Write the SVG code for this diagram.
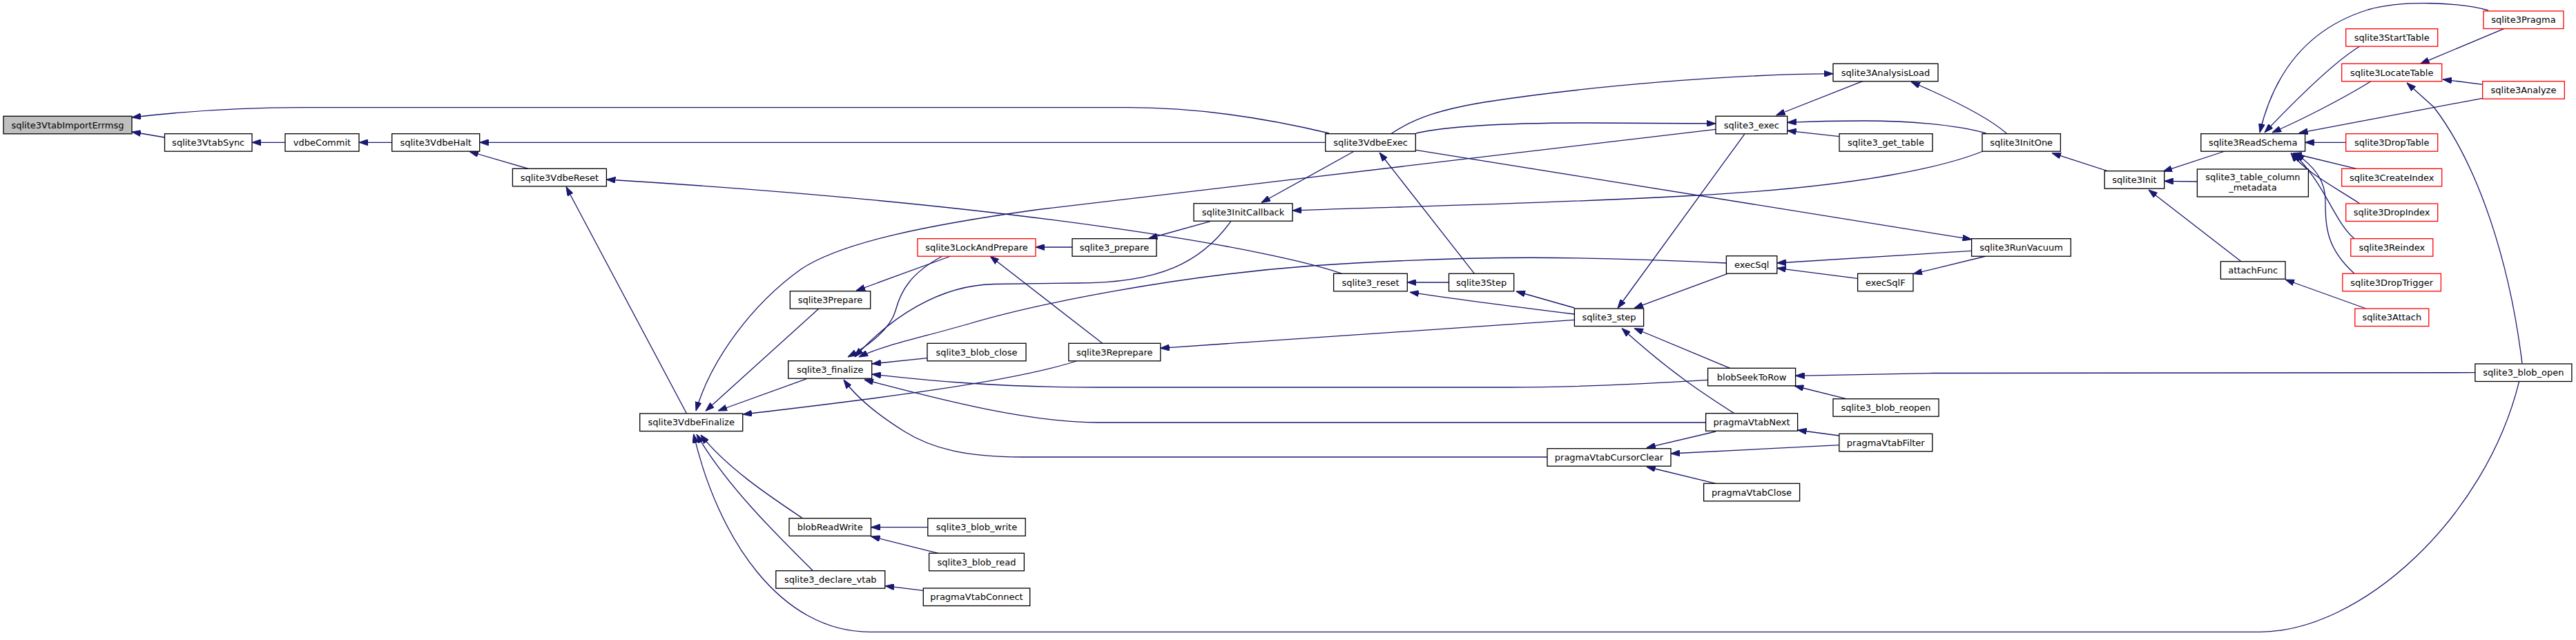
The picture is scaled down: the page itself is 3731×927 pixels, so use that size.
<svg xmlns="http://www.w3.org/2000/svg" width="3731" height="927" viewBox="0 0 3731 927">
<style>
.n rect{fill:#fff;stroke:#000;stroke-width:1.3}
.n.r rect{stroke:#ff0000}
.n.g rect{fill:#bfbfbf}
.n text{font-family:"DejaVu Sans",sans-serif;font-size:13px;fill:#000;text-anchor:middle}
#edges path{fill:none;stroke:#191970;stroke-width:1.3;marker-end:url(#ah)}
</style>
<defs>
<marker id="ah" markerUnits="userSpaceOnUse" viewBox="0 0 13 9" refX="13" refY="4.5" markerWidth="13" markerHeight="9" orient="auto">
<path d="M0,0 L13,4.5 L0,9 z" fill="#191970" stroke="#191970" stroke-width="1"/>
</marker>
</defs>
<rect width="3731" height="927" fill="#fff"/>
<g id="edges">
<path d="M1925,193 C1800,163 1700,155.7 1633,155.7 L441,155.7 C350,155.7 260,162 191,170"/>
<path d="M238.5,199 L191,191"/>
<path d="M413,206.3 L365,206.3"/>
<path d="M567.7,206.3 L520,206.3"/>
<path d="M1919.7,206.3 L694.7,206.3"/>
<path d="M765,244.3 L680,219.5"/>
<path d="M1943.5,396.3 C1850,363 1500,298 878.4,260"/>
<path d="M994.4,598.7 L820,270.7"/>
<path d="M2485,187.3 L1500,304 C1350,325 1220,350 1160,390 C1090,440 1030,520 1008,595"/>
<path d="M1186,447 L1022,595.3"/>
<path d="M1168.5,548.7 L1040,595"/>
<path d="M1559,523 C1450,558 1200,585 1076,600.3"/>
<path d="M3648.7,552.3 C3600,750 3420,915 3273,915.3 L1260,915.3 C1130,915.3 1040,780 1004.5,628.7"/>
<path d="M1177.5,826.7 C1120,770 1050,700 1009,629"/>
<path d="M1162.5,750.7 C1120,722 1055,680 1015,630"/>
<path d="M1365,371 C1320,395 1305,420 1297,450 C1290,475 1260,500 1228,517"/>
<path d="M1782.7,320.7 C1740,380 1680,410 1560,410 L1440,411.5 C1360,413 1290,460 1238,517"/>
<path d="M1377,371 L1240,421"/>
<path d="M2500.4,381 C2300,372 2150,368 1900,385 C1700,400 1500,440 1400,470 C1330,490 1280,500 1244,517"/>
<path d="M1343,518.7 L1263,527"/>
<path d="M2473.6,550.3 C2350,558 2250,561 2188,561 L1590,561 C1450,561 1350,552 1263,542"/>
<path d="M2470.6,612 L1590,612 C1480,612 1330,570 1252,550"/>
<path d="M2241,662 L1480,662 C1400,662 1350,650 1310,625 C1270,600 1240,575 1222,550"/>
<path d="M1553,358 L1500,358"/>
<path d="M1753,320.7 L1663.5,345.5"/>
<path d="M1596.7,497.3 L1434,371"/>
<path d="M2280.4,463.3 L1680.7,504.3"/>
<path d="M1343.8,763.7 L1261.5,763.7"/>
<path d="M1359,801.3 L1261.5,777"/>
<path d="M1337.3,855.3 L1282,848.7"/>
<path d="M1961,219.3 L1827,293.5"/>
<path d="M2872,219 C2820,240 2700,270 2456,283 C2250,295 2000,300 1872,305"/>
<path d="M2135.5,396.3 L1998,221"/>
<path d="M2015,193.5 C2050,170 2090,158 2150,148 C2300,125 2500,108 2655,106.7"/>
<path d="M2050.8,193 C2100,182 2200,178 2300,178 L2485,179"/>
<path d="M2697.8,117.7 L2572.6,167"/>
<path d="M2876.5,193 C2830,180 2760,175 2700,175 C2650,175 2620,176 2588.7,177.3"/>
<path d="M2663.8,197.7 L2588.7,189.3"/>
<path d="M2526.7,194.3 L2343,446.5"/>
<path d="M2906.3,193.3 C2880,170 2830,145 2768,118.5"/>
<path d="M2050.8,217.3 L2855.6,346.7"/>
<path d="M2855.6,363.3 L2573.8,381"/>
<path d="M2876.5,371 L2771,396.7"/>
<path d="M2690.6,403.3 L2573.8,388.3"/>
<path d="M2501.6,396.7 L2367,446.3"/>
<path d="M2098.5,409 L2038.3,409"/>
<path d="M2280.4,455 C2200,445 2120,435 2042,423.3"/>
<path d="M2280.4,446 L2196,422"/>
<path d="M2511.7,598.7 C2470,572 2420,540 2349,475.5"/>
<path d="M2505.8,533.3 L2367,475.5"/>
<path d="M3584.9,539.7 L2800,540.5 L2600.6,544.3"/>
<path d="M2674,577.7 L2599.4,559"/>
<path d="M2663.8,631 L2603.6,623"/>
<path d="M2485,625 L2384.7,648.7"/>
<path d="M2663.8,644.7 L2420,657"/>
<path d="M2485,700.3 L2384.7,676"/>
<path d="M3052.4,247.7 L2972,221.7"/>
<path d="M3222.4,219 L3133,248.3"/>
<path d="M3182.4,263 L3134.7,262.3"/>
<path d="M3246,378.7 L3112,275"/>
<path d="M3427,447 L3310,405"/>
<path d="M3604,15 C3560,3 3480,0 3430,14 C3330,45 3290,120 3273,192"/>
<path d="M3418,67 C3380,90 3320,150 3280,192"/>
<path d="M3434,117.7 C3390,145 3330,175 3291,192"/>
<path d="M3595.7,142.3 L3329.7,192.7"/>
<path d="M3397.7,206.3 L3338.6,206.3"/>
<path d="M3413,244.3 L3320.7,222"/>
<path d="M3418,295 C3380,270 3340,250 3318,221.5"/>
<path d="M3410,345.7 C3380,320 3370,270 3322,222"/>
<path d="M3410,396.3 C3370,360 3368,330 3368,290 C3368,260 3350,240 3325,222"/>
<path d="M3626.6,41.7 L3505.6,92.3"/>
<path d="M3595.7,122.3 L3538,115"/>
<path d="M3653,526.3 C3635,380 3590,240 3525,155 L3486,120"/>
</g>
<g id="n_import" class="n g"><rect x="5" y="168.3" width="186" height="25.5"/><text x="98" y="185.5">sqlite3VtabImportErrmsg</text></g>
<g id="n_vtabsync" class="n"><rect x="238.5" y="193.7" width="126.5" height="25.5"/><text x="301.7" y="211">sqlite3VtabSync</text></g>
<g id="n_vdbecommit" class="n"><rect x="413" y="193.7" width="107" height="25.5"/><text x="466.5" y="211">vdbeCommit</text></g>
<g id="n_vdbehalt" class="n"><rect x="567.7" y="193.7" width="127" height="25.5"/><text x="631.2" y="211">sqlite3VdbeHalt</text></g>
<g id="n_vdbereset" class="n"><rect x="742.4" y="244.3" width="136" height="25.5"/><text x="810.4" y="261.6">sqlite3VdbeReset</text></g>
<g id="n_vdbefinalize" class="n"><rect x="926.7" y="599" width="149" height="25.5"/><text x="1001.2" y="616.3">sqlite3VdbeFinalize</text></g>
<g id="n_finalize" class="n"><rect x="1141.7" y="522.7" width="121" height="25.5"/><text x="1202.2" y="540">sqlite3_finalize</text></g>
<g id="n_prepare3" class="n"><rect x="1144.3" y="421.7" width="116.4" height="25.5"/><text x="1202.5" y="439">sqlite3Prepare</text></g>
<g id="n_lockandprepare" class="n r"><rect x="1329" y="345.7" width="171" height="25.5"/><text x="1414.5" y="363">sqlite3LockAndPrepare</text></g>
<g id="n_prepare" class="n"><rect x="1553" y="345.7" width="122" height="25.5"/><text x="1614" y="363">sqlite3_prepare</text></g>
<g id="n_initcallback" class="n"><rect x="1729" y="294.7" width="143" height="25.5"/><text x="1800.5" y="312">sqlite3InitCallback</text></g>
<g id="n_blobclose" class="n"><rect x="1343" y="497.3" width="143" height="25.5"/><text x="1414.5" y="514.6">sqlite3_blob_close</text></g>
<g id="n_reprepare" class="n"><rect x="1547.8" y="497.3" width="133" height="25.5"/><text x="1614.3" y="514.6">sqlite3Reprepare</text></g>
<g id="n_blobreadwrite" class="n"><rect x="1143" y="750.7" width="118.5" height="25.5"/><text x="1202.2" y="768">blobReadWrite</text></g>
<g id="n_blobwrite" class="n"><rect x="1343.8" y="750.7" width="141.4" height="25.5"/><text x="1414.5" y="768">sqlite3_blob_write</text></g>
<g id="n_blobread" class="n"><rect x="1345.6" y="801.3" width="137.8" height="25.5"/><text x="1414.5" y="818.6">sqlite3_blob_read</text></g>
<g id="n_declarevtab" class="n"><rect x="1123.8" y="826.7" width="158" height="25.5"/><text x="1202.8" y="844">sqlite3_declare_vtab</text></g>
<g id="n_vtabconnect" class="n"><rect x="1337.3" y="852" width="154.4" height="25.5"/><text x="1414.5" y="869.3">pragmaVtabConnect</text></g>
<g id="n_vdbeexec" class="n"><rect x="1919.7" y="193.7" width="130.6" height="25.5"/><text x="1985" y="211">sqlite3VdbeExec</text></g>
<g id="n_reset" class="n"><rect x="1931.6" y="396.3" width="106.7" height="25.5"/><text x="1985" y="413.6">sqlite3_reset</text></g>
<g id="n_step3" class="n"><rect x="2098.5" y="396.3" width="94.2" height="25.5"/><text x="2145.6" y="413.6">sqlite3Step</text></g>
<g id="n_step" class="n"><rect x="2280.4" y="447" width="100.2" height="25.5"/><text x="2330.5" y="464.3">sqlite3_step</text></g>
<g id="n_exec" class="n"><rect x="2485" y="168.3" width="103.7" height="25.5"/><text x="2536.8" y="185.6">sqlite3_exec</text></g>
<g id="n_analysisload" class="n"><rect x="2655" y="92.3" width="152" height="25.5"/><text x="2731" y="109.6">sqlite3AnalysisLoad</text></g>
<g id="n_gettable" class="n"><rect x="2664" y="193.7" width="135" height="25.5"/><text x="2731.5" y="211">sqlite3_get_table</text></g>
<g id="n_execsql" class="n"><rect x="2500.4" y="370.7" width="73.4" height="25.5"/><text x="2537.1" y="388">execSql</text></g>
<g id="n_execsqlf" class="n"><rect x="2690.6" y="396.3" width="80.4" height="25.5"/><text x="2730.8" y="413.6">execSqlF</text></g>
<g id="n_blobseek" class="n"><rect x="2473.6" y="533.3" width="127" height="25.5"/><text x="2537.1" y="550.6">blobSeekToRow</text></g>
<g id="n_blobreopen" class="n"><rect x="2655" y="577.7" width="153" height="25.5"/><text x="2731.5" y="595">sqlite3_blob_reopen</text></g>
<g id="n_vtabnext" class="n"><rect x="2470.6" y="598.7" width="133" height="25.5"/><text x="2537.1" y="616">pragmaVtabNext</text></g>
<g id="n_vtabfilter" class="n"><rect x="2663.8" y="628.3" width="135" height="25.5"/><text x="2731.3" y="645.6">pragmaVtabFilter</text></g>
<g id="n_cursorclear" class="n"><rect x="2241" y="649.7" width="179" height="25.5"/><text x="2330.5" y="667">pragmaVtabCursorClear</text></g>
<g id="n_vtabclose" class="n"><rect x="2467.6" y="700.3" width="139" height="25.5"/><text x="2537.1" y="717.6">pragmaVtabClose</text></g>
<g id="n_initone" class="n"><rect x="2871" y="193.7" width="113.4" height="25.5"/><text x="2927.7" y="211">sqlite3InitOne</text></g>
<g id="n_runvacuum" class="n"><rect x="2855.6" y="345.7" width="143.7" height="25.5"/><text x="2927.5" y="363">sqlite3RunVacuum</text></g>
<g id="n_init" class="n"><rect x="3048.2" y="247.7" width="86.5" height="25.5"/><text x="3091.5" y="265">sqlite3Init</text></g>
<g id="n_tcm" class="n"><rect x="3182.4" y="245" width="161" height="40"/><text x="3262.9" y="261.2">sqlite3_table_column</text><text x="3262.9" y="276.2">_metadata</text></g>
<g id="n_attachfunc" class="n"><rect x="3216.4" y="378.7" width="93.6" height="25.5"/><text x="3263.2" y="396">attachFunc</text></g>
<g id="n_readschema" class="n"><rect x="3187.8" y="193.7" width="150.8" height="25.5"/><text x="3263.2" y="211">sqlite3ReadSchema</text></g>
<g id="n_pragma" class="n r"><rect x="3597" y="16" width="116" height="25.5"/><text x="3655" y="33.3">sqlite3Pragma</text></g>
<g id="n_starttable" class="n r"><rect x="3397.7" y="41.7" width="133" height="25.5"/><text x="3464.2" y="59">sqlite3StartTable</text></g>
<g id="n_locatetable" class="n r"><rect x="3391.7" y="92.3" width="145" height="25.5"/><text x="3464.2" y="109.6">sqlite3LocateTable</text></g>
<g id="n_analyze" class="n r"><rect x="3595.7" y="117.7" width="118.6" height="25.5"/><text x="3655" y="135">sqlite3Analyze</text></g>
<g id="n_droptable" class="n r"><rect x="3397.7" y="193.7" width="133" height="25.5"/><text x="3464.2" y="211">sqlite3DropTable</text></g>
<g id="n_createindex" class="n r"><rect x="3391.7" y="244.3" width="145" height="25.5"/><text x="3464.2" y="261.6">sqlite3CreateIndex</text></g>
<g id="n_dropindex" class="n r"><rect x="3397.7" y="295" width="133" height="25.5"/><text x="3464.2" y="312.3">sqlite3DropIndex</text></g>
<g id="n_reindex" class="n r"><rect x="3404.8" y="345.7" width="119" height="25.5"/><text x="3464.3" y="363">sqlite3Reindex</text></g>
<g id="n_droptrigger" class="n r"><rect x="3392.9" y="396.3" width="142.5" height="25.5"/><text x="3464.2" y="413.6">sqlite3DropTrigger</text></g>
<g id="n_attach" class="n r"><rect x="3410.8" y="447" width="107" height="25.5"/><text x="3464.3" y="464.3">sqlite3Attach</text></g>
<g id="n_blobopen" class="n"><rect x="3584.9" y="527" width="140" height="25.5"/><text x="3654.9" y="544.3">sqlite3_blob_open</text></g>
</svg>
